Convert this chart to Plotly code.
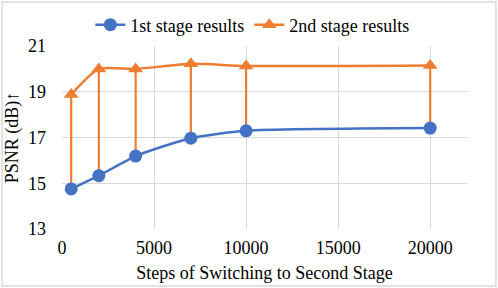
import plotly.graph_objects as go

steps = [500, 2000, 4000, 7000, 10000, 20000]
stage1 = [14.75, 15.33, 16.19, 16.97, 17.29, 17.41]
stage2 = [18.88, 20.0, 20.0, 20.22, 20.13, 20.15]
drop = [b - a for a, b in zip(stage1, stage2)]
xticks = [0, 5000, 10000, 15000, 20000]
yticks = [13, 15, 17, 19, 21]

BLUE = "#4472C4"
ORANGE = "#ED7D31"
FONT = "Liberation Serif"
F = dict(family=FONT, size=18, color="black")

fig = go.Figure()
fig.add_trace(go.Scatter(
    x=steps, y=stage2, mode="lines", line=dict(color=ORANGE, width=0),
    error_y=dict(type="data", symmetric=False, array=[0]*len(steps), arrayminus=drop,
                 color=ORANGE, thickness=2.2, width=0),
    showlegend=False, hoverinfo="skip"))
fig.add_trace(go.Scatter(
    x=steps, y=stage1, mode="lines+markers", name="1st stage results",
    line=dict(color=BLUE, width=2.5, shape="spline", smoothing=0.6),
    marker=dict(symbol="circle", size=13, color=BLUE)))
fig.add_trace(go.Scatter(
    x=steps, y=stage2, mode="lines+markers", name="2nd stage results",
    line=dict(color=ORANGE, width=2.5, shape="spline", smoothing=0.6),
    marker=dict(symbol="triangle-up", size=13, color=ORANGE)))

fig.update_layout(
    width=498, height=288,
    margin=dict(l=62, r=31, t=46, b=59, autoexpand=False),
    paper_bgcolor="white", plot_bgcolor="white",
    font=F,
    legend=dict(orientation="h", x=0.47, xanchor="center", y=1.115, yanchor="middle",
                font=F, itemwidth=30, tracegroupgap=0,
                bgcolor="rgba(0,0,0,0)"),
    xaxis=dict(range=[0, 22000], tickvals=xticks, ticktext=[str(v) for v in xticks],
               tickfont=F, automargin=False,
               showgrid=True, gridcolor="#D9D9D9", gridwidth=1.3, zeroline=False,
               showline=False, ticks="", ticklabelstandoff=6,
               title=dict(text="Steps of Switching to Second Stage", standoff=9, font=F)),
    yaxis=dict(range=[13, 21], tickvals=yticks, ticktext=[str(v) for v in yticks],
               tickfont=F, automargin=False,
               showgrid=True, gridcolor="#D9D9D9", gridwidth=1.3, zeroline=False,
               showline=False, ticks="", ticklabelstandoff=15,
               title=dict(text="PSNR (dB)\u2191", standoff=4, font=F)),
    shapes=[dict(type="rect", xref="paper", yref="paper",
                 x0=-0.148, x1=1.0716, y0=-0.311, y1=1.24,
                 line=dict(color="#D9D9D9", width=1.5), layer="below")],
)
fig.write_html("out.html", config={"displayModeBar": False},
               post_script="document.body.style.margin='0';document.body.style.overflow='hidden';")
